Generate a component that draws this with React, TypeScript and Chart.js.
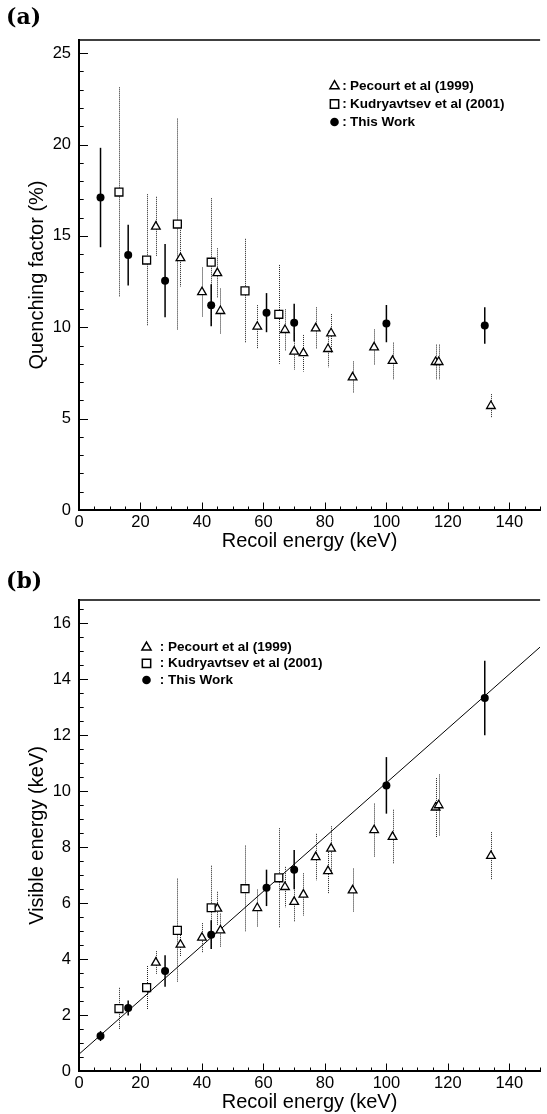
import React, { useEffect, useRef } from 'react';
import { Chart, registerables } from 'chart.js';
Chart.register(...registerables);

const CW = 547;
const CH = 557;

// ---------- tick labels / texts ----------
const energyTicks = [0, 20, 40, 60, 80, 100, 120, 140];
const quenchTicks = [0, 5, 10, 15, 20, 25];
const visibleTicks = [0, 2, 4, 6, 8, 10, 12, 14, 16];
const legendLabels = ['Pecourt et al (1999)', 'Kudryavtsev et al (2001)', 'This Work'];

// ---------- Pecourt et al (1999) ----------
const pecourtE = [25, 33, 40, 45, 46, 58, 67, 70, 73, 77, 81, 82, 89, 96, 102, 116, 117, 134];
const pecourtQF = [15.51, 13.78, 11.92, 12.96, 10.89, 10.03, 9.85, 8.67, 8.58, 9.94, 8.81, 9.67, 7.26, 8.9, 8.16, 8.1, 8.1, 5.69];
const pecourtQFErr = [1.63, 1.55, 1.35, 1.36, 1.23, 1.18, 1.13, 1.0, 1.0, 1.15, 1.0, 1.05, 0.87, 0.98, 1.0, 0.95, 0.95, 0.65];
const pecourtVis = [3.87, 4.51, 4.76, 5.8, 5.02, 5.82, 6.57, 6.04, 6.3, 7.64, 7.14, 7.94, 6.45, 8.6, 8.36, 9.41, 9.49, 7.68];
const pecourtVisErr = [0.41, 0.42, 0.52, 0.6, 0.6, 0.66, 0.72, 0.7, 0.76, 0.83, 0.82, 0.8, 0.78, 0.95, 0.97, 1.05, 1.1, 0.85];

// ---------- Kudryavtsev et al (2001) ----------
const kudE = [13, 22, 32, 43, 54, 65];
const kudQF = [17.4, 13.68, 15.65, 13.56, 11.99, 10.71];
const kudQFErr = [5.73, 3.6, 5.77, 3.5, 2.85, 2.7];
const kudVis = [2.23, 2.98, 5.02, 5.83, 6.51, 6.9];
const kudVisErr = [0.74, 0.77, 1.85, 1.5, 1.54, 1.77];

// ---------- This Work ----------
const thisE = [7, 16, 28, 43, 61, 70, 100, 132];
const thisQF = [17.1, 13.95, 12.55, 11.2, 10.8, 10.25, 10.2, 10.1];
const thisQFErr = [2.72, 1.66, 2.0, 1.15, 1.07, 1.03, 1.02, 1.0];
const thisVis = [1.25, 2.25, 3.57, 4.87, 6.54, 7.19, 10.2, 13.32];
const thisVisErr = [0.18, 0.27, 0.56, 0.51, 0.65, 0.7, 1.01, 1.33];

// ---------- linear fit (panel b) ----------
const fitE = [0, 150];
const fitVis = [0.6, 15.14];

const SANS = "'Liberation Sans', Arial, Helvetica, sans-serif";
const TRI_R = 5;
const SQ_R = 5.6;
const DOT_R = 4;

type Kind = 'tri' | 'sq' | 'dot';
type Series = { kind: Kind; xs: number[]; ys: number[]; errs: number[] };

function drawMarker(ctx: CanvasRenderingContext2D, kind: Kind, x: number, y: number) {
  ctx.save();
  ctx.setLineDash([]);
  ctx.lineWidth = 1.5;
  ctx.strokeStyle = '#000';
  ctx.fillStyle = kind === 'dot' ? '#000' : '#fff';
  ctx.beginPath();
  if (kind === 'tri') {
    const r = TRI_R + 0.3;
    let a = 0;
    ctx.moveTo(x + Math.sin(a) * r, y - Math.cos(a) * r);
    a += (2 * Math.PI) / 3;
    ctx.lineTo(x + Math.sin(a) * r, y - Math.cos(a) * r);
    a += (2 * Math.PI) / 3;
    ctx.lineTo(x + Math.sin(a) * r, y - Math.cos(a) * r);
    ctx.closePath();
  } else if (kind === 'sq') {
    const s = Math.SQRT1_2 * (SQ_R + 0.3);
    ctx.rect(x - s, y - s, 2 * s, 2 * s);
  } else {
    ctx.arc(x, y, DOT_R + 0.3, 0, Math.PI * 2);
  }
  ctx.fill();
  if (kind !== 'dot') ctx.stroke();
  ctx.restore();
}

type Panel = {
  areaTop: number;
  areaBottom: number;
  yMax: number;
  yTicks: number[];
  yMinor: number;
  yTitle: string;
  label: string;
  labelY: number;
  xTitleY: number;
  legend: { mx: number; cx: number; tx: number; rows: number[] };
  series: Series[];
  fit?: { xs: number[]; ys: number[] };
};

function makePlugin(p: Panel) {
  return {
    id: 'panelDecor',
    beforeDatasetsDraw(chart: any) {
      const ctx: CanvasRenderingContext2D = chart.ctx;
      const xs = chart.scales.x;
      const ys = chart.scales.y;
      ctx.save();
      p.series.forEach((s) => {
        if (s.kind === 'dot') {
          ctx.setLineDash([]);
          ctx.strokeStyle = '#000';
          ctx.lineWidth = 1.5;
        } else {
          ctx.setLineDash([1, 1]);
          ctx.strokeStyle = '#222';
          ctx.lineWidth = 1;
        }
        s.xs.forEach((xv, i) => {
          let px = xs.getPixelForValue(xv);
          if (s.kind !== 'dot') px = Math.round(px) + 0.5;
          ctx.beginPath();
          ctx.moveTo(px, ys.getPixelForValue(s.ys[i] + s.errs[i]));
          ctx.lineTo(px, ys.getPixelForValue(s.ys[i] - s.errs[i]));
          ctx.stroke();
        });
      });
      ctx.restore();
    },
    afterDraw(chart: any) {
      const ctx: CanvasRenderingContext2D = chart.ctx;
      const xs = chart.scales.x;
      const ys = chart.scales.y;
      const { left, right, top, bottom } = chart.chartArea;
      ctx.save();
      ctx.setLineDash([]);
      ctx.strokeStyle = '#000';
      ctx.lineWidth = 1;
      // x ticks (inside)
      for (let k = 0; k * 5 <= 150; k++) {
        const v = k * 5;
        const px = Math.round(xs.getPixelForValue(v)) + 0.5;
        const len = k % 4 === 0 ? 7.5 : 3.5;
        ctx.beginPath();
        ctx.moveTo(px, bottom);
        ctx.lineTo(px, bottom - len);
        ctx.stroke();
      }
      // y ticks (inside)
      const majorStep = p.yTicks[1] - p.yTicks[0];
      for (let k = 0; k * p.yMinor <= p.yMax + 1e-9; k++) {
        const v = k * p.yMinor;
        const py = Math.round(ys.getPixelForValue(v)) + 0.5;
        const isMajor = Math.abs(v / majorStep - Math.round(v / majorStep)) < 1e-6;
        const len = isMajor ? 9 : 4.7;
        ctx.beginPath();
        ctx.moveTo(left, py);
        ctx.lineTo(left + len, py);
        ctx.stroke();
      }
      // top frame line
      ctx.lineWidth = 1.6;
      ctx.beginPath();
      ctx.moveTo(left - 1, top);
      ctx.lineTo(right, top);
      ctx.stroke();

      // axis titles
      ctx.fillStyle = '#000';
      ctx.font = `20px ${SANS}`;
      ctx.textAlign = 'center';
      ctx.textBaseline = 'alphabetic';
      ctx.fillText('Recoil energy (keV)', (left + right) / 2, p.xTitleY);
      ctx.save();
      ctx.translate(43, (top + bottom) / 2);
      ctx.rotate(-Math.PI / 2);
      ctx.fillText(p.yTitle, 0, 0);
      ctx.restore();

      // panel label
      ctx.font = `bold 22px 'DejaVu Serif', serif`;
      ctx.textAlign = 'left';
      ctx.fillText(p.label, 6, p.labelY);

      // legend
      const kinds: Kind[] = ['tri', 'sq', 'dot'];
      ctx.font = `bold 13.5px ${SANS}`;
      ctx.textBaseline = 'middle';
      kinds.forEach((k, i) => {
        const ry = p.legend.rows[i];
        drawMarker(ctx, k, p.legend.mx, ry);
        ctx.fillStyle = '#000';
        ctx.textAlign = 'center';
        ctx.fillText(':', p.legend.cx, ry);
        ctx.textAlign = 'left';
        ctx.fillText(legendLabels[i], p.legend.tx, ry);
      });
      ctx.restore();
    },
  };
}

function buildChart(canvas: HTMLCanvasElement, p: Panel) {
  const datasets: any[] = p.series.map((s) => ({
    type: 'scatter',
    data: s.xs.map((x, i) => ({ x, y: s.ys[i] })),
    pointStyle: s.kind === 'tri' ? 'triangle' : s.kind === 'sq' ? 'rect' : 'circle',
    pointRadius: s.kind === 'tri' ? TRI_R : s.kind === 'sq' ? SQ_R : DOT_R,
    pointBackgroundColor: s.kind === 'dot' ? '#000' : '#fff',
    pointBorderColor: '#000',
    pointBorderWidth: s.kind === 'dot' ? 0 : 1.3,
    showLine: false,
  }));
  // order: dots on top, then squares, triangles
  datasets.reverse();
  if (p.fit) {
    datasets.push({
      type: 'line',
      data: p.fit.xs.map((x, i) => ({ x, y: p.fit!.ys[i] })),
      borderColor: '#000',
      borderWidth: 1,
      pointRadius: 0,
      fill: false,
      tension: 0,
    });
  }
  const tickFont = { family: SANS, size: 16.5 };
  return new Chart(canvas, {
    type: 'scatter',
    data: { datasets },
    options: {
      animation: false,
      responsive: false,
      devicePixelRatio: 1,
      events: [],
      layout: { padding: { top: p.areaTop, left: 0, right: 0, bottom: 0 } },
      plugins: { legend: { display: false }, tooltip: { enabled: false } },
      scales: {
        x: {
          type: 'linear',
          position: 'bottom',
          min: 0,
          max: 150,
          grid: { display: false, drawTicks: false },
          border: { display: true, color: '#000', width: 2 },
          ticks: { font: tickFont, color: '#000', padding: 3, maxRotation: 0, autoSkip: false },
          afterBuildTicks: (s: any) => {
            s.ticks = energyTicks.map((v) => ({ value: v }));
          },
          afterFit: (s: any) => {
            s.height = CH - p.areaBottom;
          },
        },
        y: {
          type: 'linear',
          position: 'left',
          min: 0,
          max: p.yMax,
          grid: { display: false, drawTicks: false },
          border: { display: true, color: '#000', width: 2 },
          ticks: { font: tickFont, color: '#000', padding: 8, autoSkip: false },
          afterBuildTicks: (s: any) => {
            s.ticks = p.yTicks.map((v) => ({ value: v }));
          },
          afterFit: (s: any) => {
            s.width = 79;
          },
        },
      },
    },
    plugins: [makePlugin(p)],
  } as any);
}

const panelA: Panel = {
  areaTop: 40,
  areaBottom: 510,
  yMax: 25.72,
  yTicks: quenchTicks,
  yMinor: 1,
  yTitle: 'Quenching factor (%)',
  label: '(a)',
  labelY: 24,
  xTitleY: 547,
  legend: { mx: 334.5, cx: 344.5, tx: 350, rows: [86, 104, 122] },
  series: [
    { kind: 'tri', xs: pecourtE, ys: pecourtQF, errs: pecourtQFErr },
    { kind: 'sq', xs: kudE, ys: kudQF, errs: kudQFErr },
    { kind: 'dot', xs: thisE, ys: thisQF, errs: thisQFErr },
  ],
};

const panelB: Panel = {
  areaTop: 43,
  areaBottom: 514,
  yMax: 16.82,
  yTicks: visibleTicks,
  yMinor: 0.5,
  yTitle: 'Visible energy (keV)',
  label: '(b)',
  labelY: 31,
  xTitleY: 551,
  legend: { mx: 146.5, cx: 162, tx: 168, rows: [90.3, 106.3, 123] },
  series: [
    { kind: 'tri', xs: pecourtE, ys: pecourtVis, errs: pecourtVisErr },
    { kind: 'sq', xs: kudE, ys: kudVis, errs: kudVisErr },
    { kind: 'dot', xs: thisE, ys: thisVis, errs: thisVisErr },
  ],
  fit: { xs: fitE, ys: fitVis },
};

export default function App() {
  const refA = useRef<HTMLCanvasElement | null>(null);
  const refB = useRef<HTMLCanvasElement | null>(null);
  useEffect(() => {
    const a = buildChart(refA.current!, panelA);
    const b = buildChart(refB.current!, panelB);
    return () => {
      a.destroy();
      b.destroy();
    };
  }, []);
  return (
    <div style={{ position: 'absolute', left: 0, top: 0, width: CW, height: 2 * CH, background: '#fff' }}>
      <canvas ref={refA} width={CW} height={CH} style={{ position: 'absolute', left: 0, top: 0, width: CW, height: CH, display: 'block' }} />
      <canvas ref={refB} width={CW} height={CH} style={{ position: 'absolute', left: 0, top: CH, width: CW, height: CH, display: 'block' }} />
    </div>
  );
}
